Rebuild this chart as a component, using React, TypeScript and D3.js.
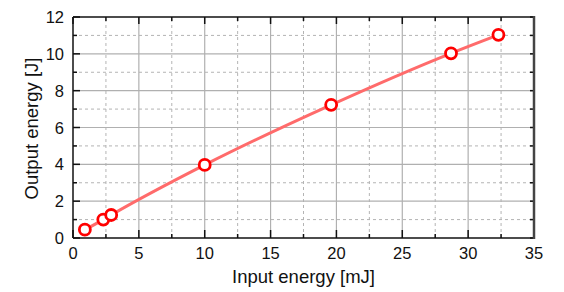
import React, { useRef, useEffect } from 'react';
import * as d3 from 'd3';

// measured points (input energy mJ, output energy J)
const inputEnergy = [0.9, 2.3, 2.9, 10.0, 19.6, 28.7, 32.3];
const outputEnergy = [0.45, 1.0, 1.25, 3.97, 7.23, 10.03, 11.03];
const xTicks = [0, 5, 10, 15, 20, 25, 30, 35];
const yTicks = [0, 2, 4, 6, 8, 10, 12];
const xMinor = [2.5, 7.5, 12.5, 17.5, 22.5, 27.5, 32.5];
const yMinor = [1, 3, 5, 7, 9, 11];

const W = 564;
const H = 292;

const App = () => {
  const svgRef = useRef<SVGSVGElement>(null);

  useEffect(() => {
    const svg = d3.select(svgRef.current);
    svg.selectAll('*').remove();

    const margin = { top: 17, right: 30, bottom: 54, left: 73 };
    const x = d3.scaleLinear().domain([0, 35]).range([margin.left, W - margin.right]);
    const y = d3.scaleLinear().domain([0, 12]).range([H - margin.bottom, margin.top]);
    const [x0, x1] = x.range();
    const [y0, y1] = y.range();
    const font = 'Liberation Sans, Arial, sans-serif';

    // grid: major solid, minor dashed
    const grid = svg.append('g');
    grid.selectAll('.gxm').data(xMinor).enter().append('line')
      .attr('x1', d => x(d)).attr('x2', d => x(d)).attr('y1', y0).attr('y2', y1)
      .attr('stroke', '#b4b4b4').attr('stroke-dasharray', '3,3');
    grid.selectAll('.gym').data(yMinor).enter().append('line')
      .attr('y1', d => y(d)).attr('y2', d => y(d)).attr('x1', x0).attr('x2', x1)
      .attr('stroke', '#b4b4b4').attr('stroke-dasharray', '3,3');
    grid.selectAll('.gx').data(xTicks.slice(1, -1)).enter().append('line')
      .attr('x1', d => x(d)).attr('x2', d => x(d)).attr('y1', y0).attr('y2', y1)
      .attr('stroke', '#b0b0b0').attr('stroke-width', 1.2);
    grid.selectAll('.gy').data(yTicks.slice(1, -1)).enter().append('line')
      .attr('y1', d => y(d)).attr('y2', d => y(d)).attr('x1', x0).attr('x2', x1)
      .attr('stroke', '#b0b0b0').attr('stroke-width', 1.2);

    // ticks, all pointing inward
    const ticks = svg.append('g').attr('stroke', '#111').attr('stroke-width', 1.5);
    xTicks.forEach(d => {
      ticks.append('line').attr('x1', x(d)).attr('x2', x(d)).attr('y1', y0).attr('y2', y0 - 8);
      ticks.append('line').attr('x1', x(d)).attr('x2', x(d)).attr('y1', y1).attr('y2', y1 + 7);
    });
    xMinor.forEach(d => {
      ticks.append('line').attr('x1', x(d)).attr('x2', x(d)).attr('y1', y0).attr('y2', y0 - 4);
      ticks.append('line').attr('x1', x(d)).attr('x2', x(d)).attr('y1', y1).attr('y2', y1 + 4);
    });
    yTicks.forEach(d => {
      ticks.append('line').attr('y1', y(d)).attr('y2', y(d)).attr('x1', x0).attr('x2', x0 + 7);
      ticks.append('line').attr('y1', y(d)).attr('y2', y(d)).attr('x1', x1).attr('x2', x1 - 4);
    });
    yMinor.forEach(d => {
      ticks.append('line').attr('y1', y(d)).attr('y2', y(d)).attr('x1', x0).attr('x2', x0 + 4);
      ticks.append('line').attr('y1', y(d)).attr('y2', y(d)).attr('x1', x1).attr('x2', x1 - 4);
    });

    // frame
    svg.append('line').attr('x1', x0).attr('x2', x1).attr('y1', y1).attr('y2', y1)
      .attr('stroke', '#111').attr('stroke-width', 1.5);
    svg.append('line').attr('x1', x0).attr('x2', x1).attr('y1', y0).attr('y2', y0)
      .attr('stroke', '#111').attr('stroke-width', 1.5);
    svg.append('line').attr('x1', x0).attr('x2', x0).attr('y1', y0).attr('y2', y1)
      .attr('stroke', '#111').attr('stroke-width', 1.5);
    svg.append('line').attr('x1', x1).attr('x2', x1).attr('y1', y0 + 1).attr('y2', y1 - 1)
      .attr('stroke', '#444').attr('stroke-width', 2.5);

    // tick labels
    svg.append('g').selectAll('text').data(xTicks).enter().append('text')
      .attr('x', d => x(d)).attr('y', y0 + 21)
      .attr('text-anchor', 'middle').attr('font-family', font).attr('font-size', 16.5)
      .attr('fill', '#111').text(d => d);
    svg.append('g').selectAll('text').data(yTicks).enter().append('text')
      .attr('x', x0 - 9).attr('y', d => y(d) + 6)
      .attr('text-anchor', 'end').attr('font-family', font).attr('font-size', 16.5)
      .attr('fill', '#111').text(d => d);

    // axis titles
    svg.append('text').attr('x', (x0 + x1) / 2).attr('y', 283)
      .attr('text-anchor', 'middle').attr('font-family', font).attr('font-size', 18.5)
      .attr('fill', '#111').text('Input energy [mJ]');
    svg.append('text')
      .attr('transform', `translate(38,${(y0 + y1) / 2 + 1}) rotate(-90)`)
      .attr('text-anchor', 'middle').attr('font-family', font).attr('font-size', 18.5)
      .attr('fill', '#111').text('Output energy [J]');

    // curve and markers
    const pts = inputEnergy.map((v, i) => [v, outputEnergy[i]] as [number, number]);
    const line = d3.line<[number, number]>()
      .x(d => x(d[0])).y(d => y(d[1]))
      .curve(d3.curveMonotoneX);
    svg.append('path').datum(pts)
      .attr('fill', 'none').attr('stroke', '#ff6b6b').attr('stroke-width', 3)
      .attr('d', line);
    svg.append('g').selectAll('circle').data(pts).enter().append('circle')
      .attr('cx', d => x(d[0])).attr('cy', d => y(d[1])).attr('r', 5.5)
      .attr('fill', '#fff').attr('stroke', '#ff0000').attr('stroke-width', 2.8);
  }, []);

  return (
    <svg ref={svgRef} width={W} height={H}
      style={{ position: 'absolute', left: 0, top: 0, background: '#fff' }} />
  );
};

export default App;
